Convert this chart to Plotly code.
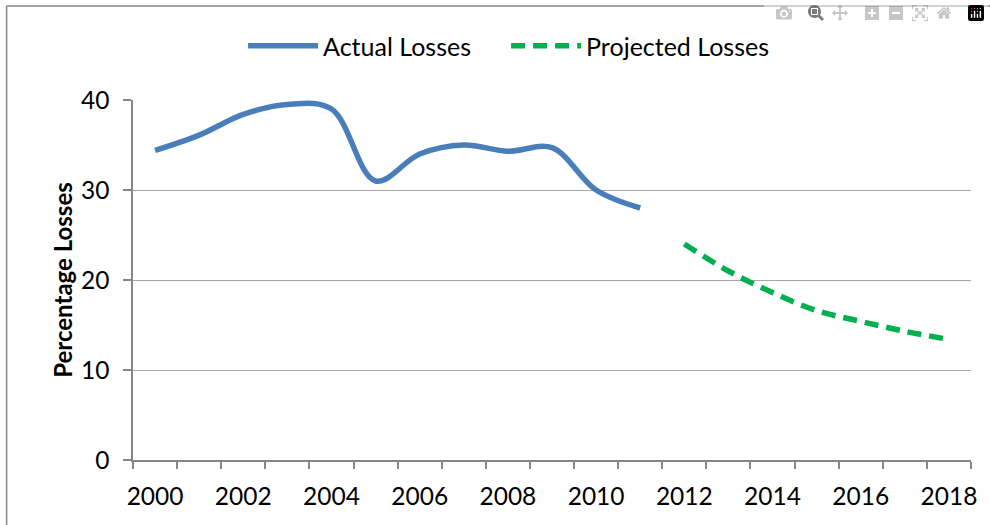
import plotly.graph_objects as go

years_actual = [2000, 2001, 2002, 2003, 2004, 2005, 2006, 2007, 2008, 2009, 2010, 2011]
actual_losses = [34.4, 36.1, 38.4, 39.5, 39.0, 31.0, 34.0, 35.0, 34.3, 34.7, 30.0, 28.0]
years_projected = [2012, 2013, 2014, 2015, 2016, 2017, 2018]
projected_losses = [24.0, 21.0, 18.6, 16.6, 15.4, 14.3, 13.4]
x_tick_labels = [2000, 2002, 2004, 2006, 2008, 2010, 2012, 2014, 2016, 2018]
y_tick_values = [0, 10, 20, 30, 40]

FONT = "Lato, 'Open Sans', sans-serif"
AXIS = "#868686"
GRID = "#a6a6a6"

W, H = 990, 525
ML, MT, PW, PH = 133.3, 100, 837.3, 360

fig = go.Figure()
fig.add_trace(go.Scatter(
    x=years_actual, y=actual_losses, name="Actual Losses", mode="lines",
    line=dict(color="#4a7ebb", width=5.5, shape="spline", smoothing=1.0),
))
fig.add_trace(go.Scatter(
    x=years_projected, y=projected_losses, name="Projected Losses", mode="lines",
    line=dict(color="#00b050", width=5.5, dash="14px,8px", shape="spline", smoothing=1.0),
))

fig.update_layout(
    width=W, height=H,
    margin=dict(l=ML, r=W - ML - PW, t=MT, b=H - MT - PH, autoexpand=False),
    paper_bgcolor="white", plot_bgcolor="white",
    font=dict(family=FONT, size=24.5, color="black"),
    showlegend=True,
    legend=dict(orientation="h", x=(253 - 133 - 10) / PW, xanchor="left", y=1.15, yanchor="middle",
                font=dict(size=25), itemwidth=70, entrywidth=178, entrywidthmode="pixels",
                tracegroupgap=0, bgcolor="rgba(0,0,0,0)"),
    xaxis=dict(
        range=[1999.5, 2018.5], tickmode="array", tickvals=x_tick_labels,
        ticktext=[str(v) for v in x_tick_labels], ticks="", showgrid=False,
        showline=True, linecolor=AXIS, linewidth=1.5, zeroline=False,
        ticklabelstandoff=14,
        minor=dict(tickmode="linear", tick0=1999.5, dtick=1, ticks="outside",
                   ticklen=7, tickcolor=AXIS, tickwidth=1.5, showgrid=False),
    ),
    yaxis=dict(
        range=[0, 40], tickmode="array", tickvals=y_tick_values,
        ticks="outside", ticklen=8, tickcolor=AXIS, tickwidth=1.5,
        showgrid=True, gridcolor=GRID, gridwidth=1,
        showline=True, linecolor=AXIS, linewidth=1.5, zeroline=False,
        ticklabelstandoff=9,
        title=dict(text="<b>Percentage Losses</b>", font=dict(size=24), standoff=2),
    ),
    shapes=[
        dict(type="line", xref="paper", yref="paper", x0=(7 - ML) / PW, x1=1.1,
             y0=1 + (MT - 6) / PH, y1=1 + (MT - 6) / PH, line=dict(color=AXIS, width=1.5)),
        dict(type="line", xref="paper", yref="paper", x0=(7 - ML) / PW, x1=(7 - ML) / PW,
             y0=-0.3, y1=1 + (MT - 6) / PH, line=dict(color=AXIS, width=1.5)),
    ],
)

fig.write_html(
    "out.html",
    post_script="document.body.style.margin='0';document.body.style.overflow='hidden';",
)
